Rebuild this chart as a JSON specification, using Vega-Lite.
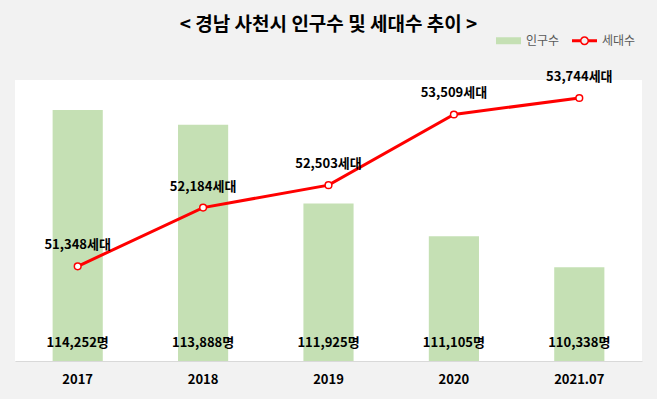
{
  "$schema": "https://vega.github.io/schema/vega-lite/v6.json",
  "width": 627,
  "height": 281,
  "autosize": {"type": "none"},
  "padding": {"left": 15, "top": 80, "right": 15, "bottom": 38},
  "background": "#f2f2f2",
  "title": {
    "text": "< 경남 사천시 인구수 및 세대수 추이 >",
    "font": "Noto Sans CJK KR",
    "fontSize": 19,
    "fontWeight": "bold",
    "color": "#000000",
    "anchor": "middle",
    "offset": 16,
    "dy": 23
  },
  "data": {
    "values": [
      {"year": "2017", "pop": 114252, "hh": 51348},
      {"year": "2018", "pop": 113888, "hh": 52184},
      {"year": "2019", "pop": 111925, "hh": 52503},
      {"year": "2020", "pop": 111105, "hh": 53509},
      {"year": "2021.07", "pop": 110338, "hh": 53744}
    ]
  },
  "transform": [
    {"calculate": "format(datum.pop, ',') + '명'", "as": "popLabel"},
    {"calculate": "format(datum.hh, ',') + '세대'", "as": "hhLabel"}
  ],
  "encoding": {
    "x": {
      "field": "year",
      "type": "nominal",
      "sort": null,
      "scale": {"paddingInner": 0.6, "paddingOuter": 0.3},
      "axis": {
        "title": null,
        "labelAngle": 0,
        "labelFont": "Noto Sans CJK KR",
        "labelFontSize": 13,
        "labelFontWeight": "bold",
        "labelColor": "#000000",
        "labelPadding": 12,
        "ticks": false,
        "domainColor": "#d9d9d9",
        "domainWidth": 1,
        "zindex": 1
      }
    }
  },
  "layer": [
    {
      "layer": [
        {
          "mark": {"type": "bar"},
          "encoding": {
            "y": {
              "field": "pop",
              "type": "quantitative",
              "scale": {"domain": [108000, 115000], "zero": false, "nice": false},
              "axis": null
            },
            "y2": {"datum": 108000},
            "color": {
              "datum": "인구수",
              "scale": {"domain": ["인구수", "세대수"], "range": ["#c5e0b4", "#ff0000"]},
              "legend": {
                "title": null,
                "orient": "none",
                "direction": "horizontal",
                "legendX": 481,
                "legendY": -52,
                "labelFont": "Noto Sans CJK KR",
                "labelFontSize": 12,
                "labelColor": "#595959",
                "labelOffset": 5,
                "columnPadding": 12,
                "symbolSize": 625,
                "encode": {
                  "symbols": {
                    "update": {
                      "shape": {"signal": "datum.value === '인구수' ? 'M-1,-0.28H1V0.28H-1Z' : 'M-1,-0.12H-0.34V0.12H-1Z M0.34,-0.12H1V0.12H0.34Z M-0.36,0A0.36,0.36 0 1 1 0.36,0A0.36,0.36 0 1 1 -0.36,0Z M-0.24,0A0.24,0.24 0 1 0 0.24,0A0.24,0.24 0 1 0 -0.24,0Z'"},
                      "fill": {"signal": "datum.value === '인구수' ? '#c5e0b4' : '#ff0000'"},
                      "stroke": {"value": "transparent"},
                      "strokeWidth": {"value": 0},
                      "opacity": {"value": 1},
                      "fillOpacity": {"value": 1}
                    }
                  }
                }
              }
            }
          }
        },
        {
          "mark": {
            "type": "text",
            "font": "Noto Sans CJK KR",
            "fontSize": 13,
            "fontWeight": "bold",
            "color": "#000000",
            "baseline": "middle",
            "dy": -18
          },
          "encoding": {
            "y": {"datum": 108000, "type": "quantitative"},
            "text": {"field": "popLabel"}
          }
        }
      ]
    },
    {
      "layer": [
        {
          "mark": {"type": "line", "strokeWidth": 3},
          "encoding": {
            "y": {
              "field": "hh",
              "type": "quantitative",
              "scale": {"domain": [50000, 54000], "zero": false, "nice": false},
              "axis": null
            },
            "color": {"datum": "세대수"}
          }
        },
        {
          "mark": {"type": "point", "filled": true, "fill": "#ffffff", "stroke": "#ff0000", "strokeWidth": 1.5, "size": 45, "opacity": 1},
          "encoding": {
            "y": {"field": "hh", "type": "quantitative"}
          }
        },
        {
          "mark": {
            "type": "text",
            "font": "Noto Sans CJK KR",
            "fontSize": 13,
            "fontWeight": "bold",
            "color": "#000000",
            "baseline": "middle",
            "dy": -21
          },
          "encoding": {
            "y": {"field": "hh", "type": "quantitative"},
            "text": {"field": "hhLabel"}
          }
        }
      ]
    }
  ],
  "resolve": {"scale": {"y": "independent"}},
  "config": {
    "view": {"fill": "#ffffff", "stroke": null}
  }
}
